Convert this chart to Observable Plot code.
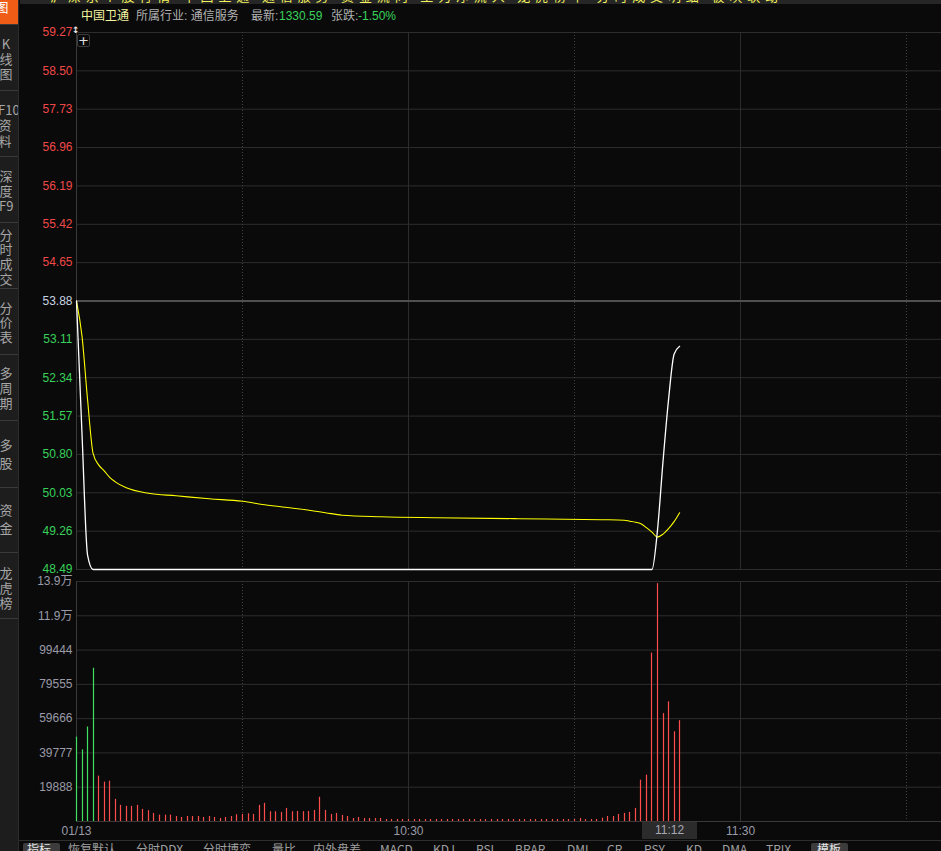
<!DOCTYPE html>
<html><head><meta charset="utf-8">
<script src="https://cdn.jsdelivr.net/npm/d3@7"></script>
<script src="https://cdn.jsdelivr.net/npm/@observablehq/plot@0.6"></script>
<style>
html,body{margin:0;padding:0;background:#0a0a0a;width:941px;height:851px;overflow:hidden;font-family:"Liberation Sans",Arial,"Noto Sans CJK SC",sans-serif;}
#root{position:relative;width:941px;height:851px;background:#0a0a0a;overflow:hidden;}
.abs{position:absolute;}
#sidebar{position:absolute;left:0;top:0;width:18px;height:851px;background:#1d1d1d;border-right:1px solid #2c2c2c;overflow:hidden;}
.sgroup{position:absolute;left:-1px;width:14px;text-align:center;color:#a6a6a6;font-size:13px;font-family:"Noto Sans CJK SC","Liberation Sans",sans-serif;}
.ssep{position:absolute;left:0;width:18px;height:1px;background:#3a3a3a;}
#title span{position:absolute;top:0;white-space:nowrap;}
.tb{position:absolute;top:843px;font-size:12px;line-height:12px;color:#a0a0a0;white-space:nowrap;font-family:"Noto Sans CJK SC","Liberation Sans",sans-serif;}
#ticker{position:absolute;left:30px;top:-11px;width:728px;font-size:13px;line-height:13px;color:#f2f25a;text-align:justify;text-align-last:justify;white-space:nowrap;font-family:'Noto Sans CJK SC',sans-serif;}
</style></head><body>
<div id="root">
  <div id="topband" class="abs" style="left:20px;top:0;width:921px;height:4px;background:#262626;overflow:hidden;">
    <div id="ticker"></div>
  </div>
  <div id="sidebar"></div>
  <div id="title" class="abs" style="left:0;top:10px;width:941px;height:14px;font-size:12px;line-height:12px;"></div>
  <div id="pricePlot" class="abs" style="left:18px;top:24px;"></div>
  <div id="volPlot" class="abs" style="left:18px;top:573px;"></div>
  <div class="abs" style="left:77px;top:34px;width:11px;height:11px;border:1px solid #3c3c3c;border-radius:2px;color:#e0e0e0;font-size:13px;line-height:11px;text-align:center;font-family:'DejaVu Sans',sans-serif;">+</div>
  <div class="abs" style="left:72px;top:26px;color:#e8e8e8;font-size:9px;line-height:9px;font-family:'DejaVu Sans',sans-serif;font-weight:bold;">↕</div>
  <div id="cursorTime" class="abs" style="left:642px;top:822px;width:55px;height:17px;background:#2b2b2b;color:#a8a8b4;font-size:12px;line-height:17px;text-align:center;"></div>
  <div class="abs" style="left:19px;top:840px;width:922px;height:1px;background:#2e2e2e;"></div>
  <div id="toolbar" class="abs" style="left:0;top:0;width:941px;height:851px;overflow:hidden;"></div>
</div>
<script>
// ---------- data ----------
const prevClose = 53.88;
const priceTicks = [48.49, 49.26, 50.03, 50.80, 51.57, 52.34, 53.11, 53.88, 54.65, 55.42, 56.19, 56.96, 57.73, 58.50, 59.27];
const volTickValues = [19888.8, 39777.6, 59666.4, 79555.2, 99444, 119332.8, 139221.6];
const volTickLabels = ["19888", "39777", "59666", "79555", "99444", "11.9万", "13.9万"];
const timeTickValues = [0, 60, 120];
const timeTickLabels = ["01/13", "10:30", "11:30"];
const solidGridMinutes = [60, 120];
const dottedGridMinutes = [30, 90, 150];
const cursorLabel = "11:12";

// price line (minute since 9:30, price)
const priceMinutes = [0, 1, 2, 3, 104, 105, 106, 107, 108, 109];
const priceValues  = [53.88, 51.20, 48.78, 48.49, 48.49, 49.28, 50.66, 51.90, 52.81, 52.97];
// average price line
const avgMinutes = [0, 1, 2, 3, 4, 5, 6, 7, 9, 13, 18, 24, 30, 34, 40, 45, 48, 55, 65, 80, 95, 99, 100, 101, 102, 103, 104, 105, 106, 107, 108, 109];
const avgValues  = [53.88, 53.17, 51.90, 50.82, 50.59, 50.47, 50.34, 50.25, 50.13, 50.02, 49.97, 49.91, 49.86, 49.79, 49.71, 49.63, 49.58, 49.55, 49.53, 49.51, 49.49, 49.48, 49.46, 49.44, 49.41, 49.33, 49.24, 49.14, 49.20, 49.31, 49.45, 49.63];
// per-minute volume, minutes 0..109
const volumes = [
  48960, 41530, 54810, 88910, 26320, 22810, 23400, 12870, 9360, 8770,
  8770, 9360, 7020, 6260, 4680, 3690, 3690, 3690, 2920, 2340,
  2920, 2920, 2920, 2340, 2920, 2340, 1750, 2340, 2920, 3920,
  4100, 4500, 4100, 9360, 10530, 5670, 5670, 5260, 7600, 5670,
  5850, 5670, 5850, 6430, 14040, 6430, 4100, 4680, 3510, 2920,
  1750, 2340, 1750, 1750, 1750, 1750, 1170, 1170, 1170, 1170,
  1170, 1170, 1170, 1170, 1170, 1170, 1170, 1170, 1170, 1170,
  1170, 1170, 1170, 1170, 1170, 1170, 1170, 1170, 1170, 1170,
  1170, 1170, 1170, 1170, 1170, 1170, 1170, 1170, 1170, 1170,
  1170, 1750, 1170, 1170, 1170, 1930, 2920, 2920, 4100, 4680,
  5260, 7600, 23980, 26910, 97690, 138000, 62590, 69430, 52060, 58490
];
const downMinutes = [0, 1, 2, 3];

// header / UI text
const tickerText = "沪深京个股行情 中国卫通 通信服务 资金流向 主力净流入 龙虎榜单 分时成交明细 板块联动";
const stockName = "中国卫通";
const industry = "所属行业: 通信服务";
const lastLabel = "最新:";
const lastValue = "1330.59";
const chgLabel = "张跌:";
const chgValue = "-1.50%";
const sideGroups = [["图"], ["K","线","图"], ["F10","资","料"], ["深","度","F9"], ["分","时","成","交"], ["分","价","表"], ["多","周","期"], ["多","股"], ["资","金"], ["龙","虎","榜"]];
const toolbarItems = ["指标","恢复默认","分时DDX","分时博弈","量比","内外盘差","MACD","KDJ","RSI","BRAR","DMI","CR","PSY","KD","DMA","TRIX","模板"];

// ---------- colours ----------
const GRID = "#2d2d2d", DOT = "#404040", AXIS = "#3a3a3a";
const RED = "#f04848", GREEN = "#38d25a", NEUTRAL = "#c8d2e2", GRAYTXT = "#9a9aa8";

document.getElementById("ticker").textContent = tickerText;

// ---------- header ----------
const title = document.getElementById("title");
[[81, stockName, "#f5f5a0"], [136, industry, "#b0b0b0"], [251, lastLabel, "#b0b0b0"], [279, lastValue, GREEN], [331, chgLabel, "#b0b0b0"], [358, chgValue, GREEN]]
  .forEach(([x, t, c]) => { const s = document.createElement("span"); s.style.left = x + "px"; s.style.color = c; s.textContent = t; title.appendChild(s); });

// ---------- sidebar ----------
const sb = document.getElementById("sidebar");
const orange = document.createElement("div");
orange.style.cssText = "position:absolute;left:0;top:0;width:18px;height:24px;background:#ee5c16;";
sb.appendChild(orange);
const groupLayout = [[0, 13, -4], [35.5, 15, 0], [101.5, 15.5, -1], [167.5, 15, 0], [227.5, 14.7, 0], [300.5, 14.5, 0], [364.5, 15, 0], [436, 18, 0], [501, 18, 0], [564.5, 15, 0]];
sideGroups.forEach((g, gi) => {
  const [top, lh, dx] = groupLayout[gi];
  const d = document.createElement("div");
  d.className = "sgroup";
  d.style.top = top + "px"; d.style.lineHeight = lh + "px"; d.style.left = (-1 + dx) + "px";
  if (gi === 0) d.style.color = "#ffffff";
  d.innerHTML = g.map(c => `<div style="white-space:nowrap">${c}</div>`).join("");
  sb.appendChild(d);
});
[24, 90, 156, 222, 288, 354, 420, 487, 552, 618].forEach(y => {
  const s = document.createElement("div"); s.className = "ssep"; s.style.top = y + "px"; sb.appendChild(s);
});

// ---------- toolbar ----------
const tb = document.getElementById("toolbar");
const tbX = [27, 68, 136, 203, 272, 313, 380, 433, 476, 515, 567, 607, 644, 686, 722, 766, 817];
[[23, 37], [811, 37]].forEach(([x, w]) => {
  const b = document.createElement("div");
  b.style.cssText = `position:absolute;left:${x}px;top:843px;width:${w}px;height:10px;background:#3c3c3c;border-radius:2px 2px 0 0;`;
  tb.appendChild(b);
});
toolbarItems.forEach((t, i) => {
  const s = document.createElement("div"); s.className = "tb";
  s.style.left = tbX[i] + "px"; s.textContent = t;
  if (i === 0 || i === toolbarItems.length - 1) s.style.color = "#e6e6e6";
  tb.appendChild(s);
});
document.getElementById("cursorTime").textContent = cursorLabel;

// ---------- plots ----------
const xDomain = [0, 156.33];
const priceLine = priceMinutes.map((m, i) => ({m, p: priceValues[i]}));
const avgLine = avgMinutes.map((m, i) => ({m, p: avgValues[i]}));
const volData = volumes.map((v, m) => ({m, v, down: downMinutes.includes(m)}));
const plotStyle = {background: "transparent", overflow: "visible", fontFamily: '"Liberation Sans", Arial, "Noto Sans CJK SC", sans-serif', fontSize: "12px"};

const pricePlot = Plot.plot({
  width: 923, height: 546,
  marginLeft: 58, marginRight: 0, marginTop: 8, marginBottom: 1,
  style: plotStyle,
  x: {domain: xDomain, axis: null},
  y: {domain: [priceTicks[0], priceTicks[priceTicks.length - 1]], axis: null},
  marks: [
    Plot.gridY(priceTicks, {stroke: GRID, strokeOpacity: 1}),
    Plot.ruleX(solidGridMinutes, {stroke: GRID}),
    Plot.ruleX(dottedGridMinutes, {stroke: DOT, strokeDasharray: "1,2"}),
    Plot.ruleY([prevClose], {stroke: "#505050", strokeWidth: 2}),
    Plot.ruleX([0], {stroke: AXIS}),
    Plot.line(avgLine, {x: "m", y: "p", stroke: "#ffff00", strokeWidth: 1.1, curve: "monotone-x"}),
    Plot.line(priceLine, {x: "m", y: "p", stroke: "#ffffff", strokeWidth: 1.3, curve: "monotone-x"}),
    Plot.axisY(priceTicks.filter(d => d > prevClose), {anchor: "left", label: null, tickSize: 0, tickPadding: 4, fill: RED, tickFormat: d => d.toFixed(2)}),
    Plot.axisY([prevClose], {anchor: "left", label: null, tickSize: 0, tickPadding: 4, fill: NEUTRAL, tickFormat: d => d.toFixed(2)}),
    Plot.axisY(priceTicks.filter(d => d < prevClose), {anchor: "left", label: null, tickSize: 0, tickPadding: 4, fill: GREEN, tickFormat: d => d.toFixed(2)})
  ]
});
document.getElementById("pricePlot").appendChild(pricePlot);

const volLabelMap = new Map(volTickValues.map((v, i) => [v, volTickLabels[i]]));
const timeLabelMap = new Map(timeTickValues.map((v, i) => [v, timeTickLabels[i]]));
const volPlot = Plot.plot({
  width: 923, height: 266,
  marginLeft: 58, marginRight: 0, marginTop: 8, marginBottom: 18,
  style: plotStyle,
  x: {domain: xDomain, axis: null, round: true},
  y: {domain: [0, volTickValues[volTickValues.length - 1]], axis: null},
  color: {type: "identity"},
  marks: [
    Plot.gridY(volTickValues, {stroke: GRID, strokeOpacity: 1}),
    Plot.ruleX(solidGridMinutes, {stroke: GRID}),
    Plot.ruleX(dottedGridMinutes, {stroke: DOT, strokeDasharray: "1,2"}),
    Plot.ruleY([0], {stroke: AXIS}),
    Plot.ruleX([0], {stroke: AXIS}),
    Plot.ruleX(volData, {x: "m", y1: 0, y2: "v", stroke: d => d.down ? "#3fe060" : "#ff4c4c", strokeWidth: 1.2}),
    Plot.axisY(volTickValues, {anchor: "left", label: null, tickSize: 0, tickPadding: 4, fill: GRAYTXT, tickFormat: d => volLabelMap.get(d)}),
    Plot.axisX(timeTickValues, {anchor: "bottom", label: null, tickSize: 0, tickPadding: 5, fill: GRAYTXT, tickFormat: d => timeLabelMap.get(d)})
  ]
});
document.getElementById("volPlot").appendChild(volPlot);
</script>
</body></html>
